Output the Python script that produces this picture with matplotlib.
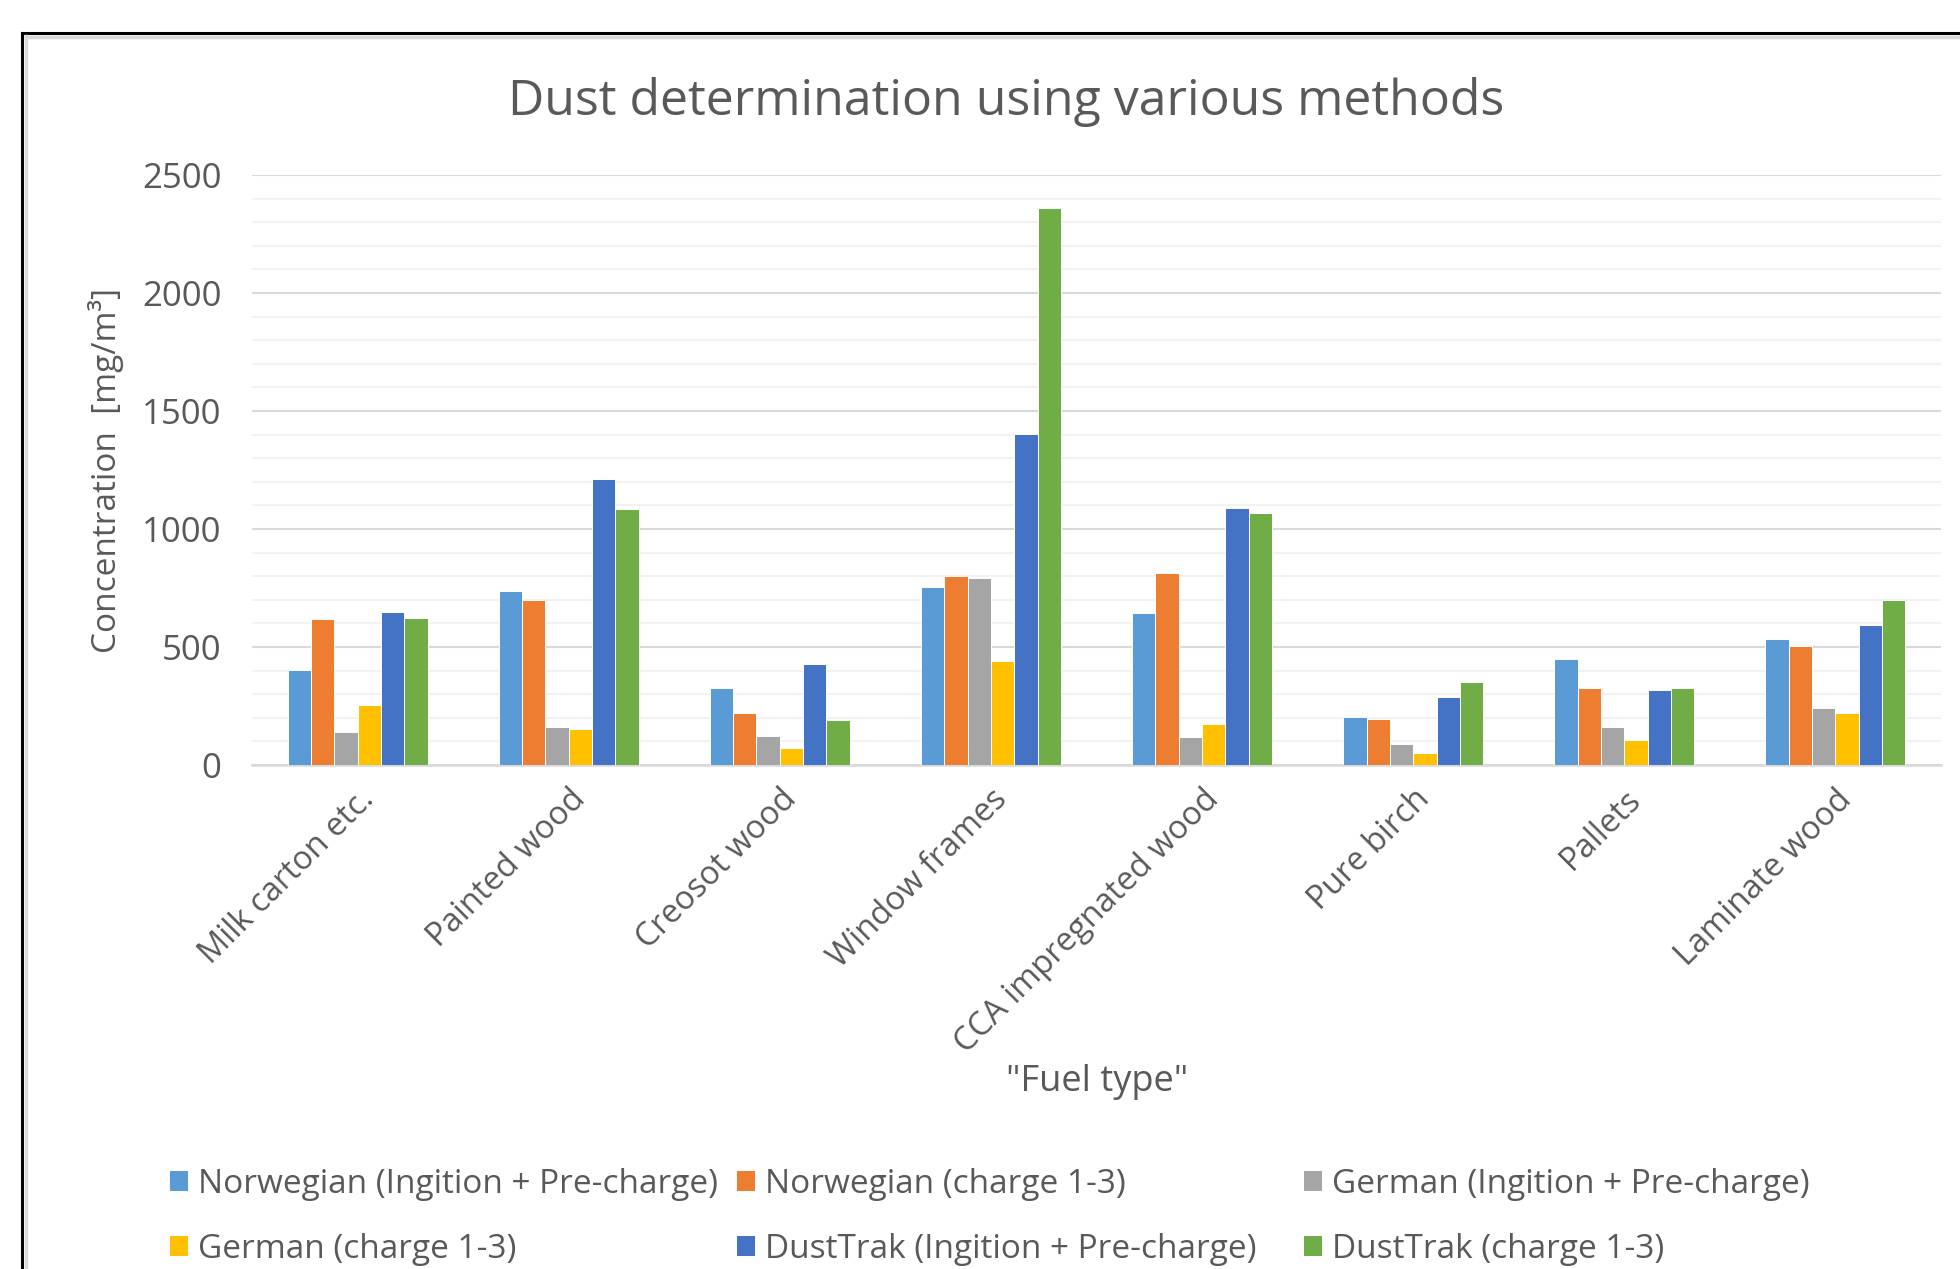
import matplotlib
matplotlib.use("Agg")
import matplotlib.pyplot as plt
from matplotlib.patches import Patch
from matplotlib.lines import Line2D
from matplotlib.ticker import MultipleLocator
import numpy as np

plt.rcParams['font.family'] = ['Open Sans', 'DejaVu Sans']

categories = ["Milk carton etc.", "Painted wood", "Creosot wood", "Window frames",
              "CCA impregnated wood", "Pure birch", "Pallets", "Laminate wood"]
series_names = ["Norwegian (Ingition + Pre-charge)", "Norwegian (charge 1-3)",
                "German (Ingition + Pre-charge)", "German (charge 1-3)",
                "DustTrak (Ingition + Pre-charge)", "DustTrak (charge 1-3)"]
norwegian_ign = [404, 739, 328, 753, 646, 205, 448, 532]
norwegian_charge = [617, 701, 222, 799, 815, 197, 327, 503]
german_ign = [138, 159, 121, 791, 119, 91, 160, 243]
german_charge = [253, 152, 70, 440, 172, 52, 108, 222]
dusttrak_ign = [649, 1211, 427, 1401, 1088, 289, 319, 593]
dusttrak_charge = [625, 1083, 191, 2362, 1066, 350, 327, 699]
y_ticks = [0, 500, 1000, 1500, 2000, 2500]

series = [norwegian_ign, norwegian_charge, german_ign, german_charge,
          dusttrak_ign, dusttrak_charge]
colors = ["#5B9BD5", "#ED7D31", "#A5A5A5", "#FFC000", "#4472C4", "#70AD47"]
text_color = "#595959"

W, H = 1960, 1269
fig = plt.figure(figsize=(W / 100, H / 100), dpi=100)
fig.patch.set_facecolor("white")

# outer frame (black border with light shadow)
fig.add_artist(Line2D([22 / W, 22 / W], [0, 1 - 33 / H], color="black", lw=2.2,
                      transform=fig.transFigure))
fig.add_artist(Line2D([22 / W, 1], [1 - 33 / H, 1 - 33 / H], color="black", lw=2.2,
                      transform=fig.transFigure))
fig.add_artist(Line2D([25.5 / W, 25.5 / W], [0, 1 - 36 / H], color="#DADADA", lw=2.5,
                      transform=fig.transFigure))
fig.add_artist(Line2D([25.5 / W, 1], [1 - 36.5 / H, 1 - 36.5 / H], color="#DADADA", lw=2.5,
                      transform=fig.transFigure))

left, right, top, bottom = 252, 1941, 175, 765
ax = fig.add_axes([left / W, 1 - bottom / H, (right - left) / W, (bottom - top) / H])

n = len(series)
x = np.arange(len(categories))
w = 1 / (n + 3.05)
for j, (vals, c) in enumerate(zip(series, colors)):
    ax.bar(x + (j - (n - 1) / 2) * w, vals, width=w, color=c, edgecolor="white",
           linewidth=0.7, zorder=3)

ax.set_xlim(-0.5, len(categories) - 0.5)
ax.set_ylim(0, 2500)
ax.set_yticks(y_ticks)
ax.yaxis.set_minor_locator(MultipleLocator(100))
ax.grid(axis="y", which="major", color="#D9D9D9", linewidth=1.5, zorder=0)
ax.grid(axis="y", which="minor", color="#F2F2F2", linewidth=1.5, zorder=0)
for s in ["top", "right", "left"]:
    ax.spines[s].set_visible(False)
ax.spines["bottom"].set_color("#D9D9D9")
ax.spines["bottom"].set_linewidth(1.8)
ax.tick_params(axis="both", which="both", length=0, colors=text_color)
ax.tick_params(axis="y", labelsize=25, pad=22)
ax.set_xticks(x)
ax.set_xticklabels(categories, rotation=45, ha="right", rotation_mode="anchor",
                   fontsize=23.5, color=text_color)
ax.tick_params(axis="x", pad=13)

fig.text(1006 / W, 1 - 102 / H, "Dust determination using various methods",
         fontsize=36, color=text_color, ha="center", va="center")
ax.set_ylabel("Concentration  [mg/m³]", fontsize=24, color=text_color)
ax.yaxis.set_label_coords((124 - left) / (right - left), 0.5)
fig.text(1097 / W, 1 - 1082 / H, '"Fuel type"', fontsize=26, color=text_color,
         ha="center", va="center")

handles = [Patch(facecolor=c, edgecolor="none") for c in colors]
col_x = [170, 737, 1304]
for k in range(3):
    idx = [k, k + 3]
    fig.legend([handles[i] for i in idx], [series_names[i] for i in idx],
               loc="upper left", bbox_to_anchor=(col_x[k] / W, 1 - 1168 / H),
               frameon=False, fontsize=24, labelcolor=text_color,
               handlelength=0.55, handleheight=0.55, handletextpad=0.3,
               borderpad=0, borderaxespad=0, labelspacing=0.95)

fig.savefig("out.png", dpi=100, facecolor="white")
